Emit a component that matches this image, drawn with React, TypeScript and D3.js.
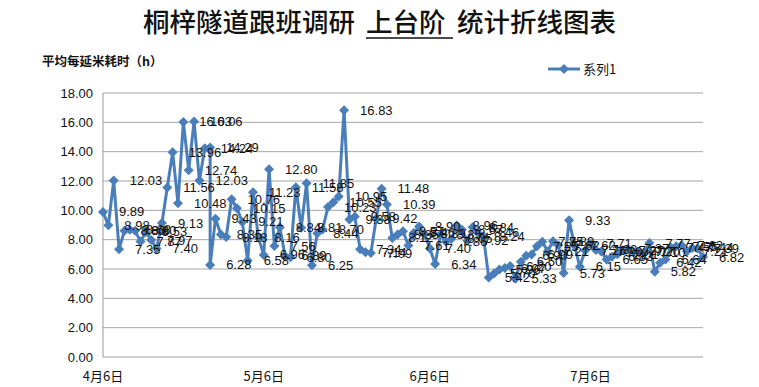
import * as d3 from "d3";

// 日期（同一天可能有多次记录）
const aprDates = ["4/6", "4/7", "4/8", "4/9", "4/10", "4/11", "4/12", "4/13", "4/14", "4/15", "4/16", "4/17", "4/18", "4/19", "4/20", "4/21", "4/22", "4/23", "4/24", "4/25", "4/26", "4/26", "4/27", "4/28", "4/29", "4/30"];
const mayDates = ["5/1", "5/2", "5/3", "5/4", "5/5", "5/6", "5/7", "5/8", "5/9", "5/10", "5/11", "5/12", "5/13", "5/14", "5/15", "5/16", "5/17", "5/18", "5/19", "5/20", "5/21", "5/22", "5/23", "5/24", "5/25", "5/26", "5/27", "5/28", "5/29", "5/30", "5/31"];
const junDates = ["6/1", "6/2", "6/3", "6/4", "6/5", "6/6", "6/7", "6/8", "6/9", "6/10", "6/11", "6/12", "6/13", "6/14", "6/15", "6/16", "6/17", "6/18", "6/19", "6/20", "6/21", "6/22", "6/23", "6/24", "6/25", "6/26", "6/27", "6/28", "6/29", "6/30"];
const julDates = ["7/1", "7/2", "7/3", "7/4", "7/5", "7/6", "7/7", "7/8", "7/9", "7/10", "7/11", "7/12", "7/13", "7/14", "7/15", "7/16", "7/17", "7/18", "7/19", "7/20", "7/21", "7/22", "7/23", "7/24", "7/25", "7/26", "7/27"];

// 平均每延米耗时（h）
const aprValues = [9.89, 8.98, 12.03, 7.35, 8.6, 8.68, 8.6, 7.87, 8.53, 7.97, 7.4, 9.13, 11.56, 13.96, 10.48, 16.03, 12.74, 16.06, 12.03, 14.24, 14.29, 6.28, 9.43, 8.35, 8.18, 10.76];
const mayValues = [10.15, 9.21, 6.58, 11.23, 8.16, 6.96, 12.8, 7.56, 8.84, 6.89, 6.8, 11.58, 8.81, 11.85, 6.25, 8.44, 8.7, 10.23, 10.55, 10.95, 16.83, 9.38, 9.58, 7.34, 7.14, 7.09, 9.42, 11.48, 10.39, 8.12, 8.35];
const junValues = [8.57, 7.61, 8.46, 8.9, 8.39, 7.4, 6.34, 8.35, 7.86, 8.05, 8.96, 8.67, 7.92, 8.84, 8.46, 8.24, 5.42, 5.7, 5.96, 6.07, 6.2, 5.33, 6.5, 6.9, 6.99, 7.55, 7.85, 7.21, 7.89, 7.62];
const julValues = [5.73, 9.33, 7.62, 6.15, 7.26, 7.71, 7.3, 7.2, 6.65, 6.83, 7.01, 7.27, 7.37, 7.17, 7.2, 7.1, 7.77, 5.82, 6.42, 6.64, 7.47, 7.55, 7.62, 7.21, 7.44, 7.39, 6.82];

const xTickDates = ["4/6", "5/6", "6/6", "7/6"];
const yTicks = [0, 2, 4, 6, 8, 10, 12, 14, 16, 18];
const seriesName = "系列1";

const parse = d3.timeParse("%m/%d");
const fmtDate = d3.timeFormat("%-m月%-d日");

interface Point {
  date: Date;
  value: number;
}

const data: Point[] = [...aprDates, ...mayDates, ...junDates, ...julDates].map((d, i) => ({
  date: parse(d)!,
  value: [...aprValues, ...mayValues, ...junValues, ...julValues][i],
}));

const BLUE = "#4a7ebb";
const NUM_FONT = "'Liberation Sans', Arial, sans-serif";
const CJK_FONT = "'Noto Sans CJK SC', sans-serif";

export default function App() {
  const width = 759;
  const height = 387;
  const plot = { left: 103, right: 703, top: 93, bottom: 357 };

  const x = d3
    .scaleTime()
    .domain([parse("4/6")!, parse("7/27")!])
    .range([plot.left, plot.right]);

  const y = d3.scaleLinear().domain([0, 18]).range([plot.bottom, plot.top]);

  const line = d3
    .line<Point>()
    .x((d) => x(d.date))
    .y((d) => y(d.value));

  const diamond = "M0,-5L5,0L0,5L-5,0Z";

  return (
    <svg
      width={width}
      height={height}
      style={{ position: "absolute", left: 0, top: 0, background: "#fff" }}
    >
      {/* Title */}
      <text y={32} fontFamily={CJK_FONT} fontSize={26.5} fontWeight={500} fill="#111">
        <tspan x={143}>桐梓隧道跟班调研</tspan>
        <tspan x={366}>上台阶</tspan>
        <tspan x={457}>统计折线图表</tspan>
      </text>
      <line x1={366} x2={453} y1={38} y2={38} stroke="#111" strokeWidth={1.5} />

      {/* Y axis title */}
      <text x={42} y={66} fontFamily={CJK_FONT} fontSize={12.5} fontWeight={700} fill="#111">
        平均每延米耗时（h）
      </text>

      {/* Grid lines */}
      {yTicks.map((t) => (
        <line
          key={t}
          x1={plot.left}
          x2={plot.right}
          y1={y(t)}
          y2={y(t)}
          stroke={t === 0 ? "#9a9a9a" : "#a6a6a6"}
          strokeWidth={1}
        />
      ))}
      <line x1={plot.left} x2={plot.left} y1={plot.top} y2={plot.bottom} stroke="#9a9a9a" />

      {/* Y tick labels */}
      {yTicks.map((t) => (
        <text
          key={t}
          x={93}
          y={y(t)}
          dy="0.35em"
          textAnchor="end"
          fontFamily={NUM_FONT}
          fontSize={13}
          fill="#111"
        >
          {t.toFixed(2)}
        </text>
      ))}

      {/* X tick labels */}
      {xTickDates.map((d) => (
        <text
          key={d}
          x={x(parse(d)!)}
          y={381}
          textAnchor="middle"
          fontFamily={CJK_FONT}
          fontSize={13}
          fill="#111"
        >
          {fmtDate(parse(d)!)}
        </text>
      ))}

      {/* Series line */}
      <path d={line(data) ?? ""} fill="none" stroke={BLUE} strokeWidth={3} strokeLinejoin="round" />

      {/* Markers */}
      {data.map((d, i) => (
        <path key={i} d={diamond} transform={`translate(${x(d.date)},${y(d.value)})`} fill={BLUE} />
      ))}

      {/* Data labels */}
      {data.map((d, i) => (
        <text
          key={i}
          x={x(d.date) + 16}
          y={y(d.value)}
          dy="0.35em"
          fontFamily={NUM_FONT}
          fontSize={13}
          fill="#111"
        >
          {d.value.toFixed(2)}
        </text>
      ))}

      {/* Legend */}
      <line x1={548} x2={580} y1={69} y2={69} stroke={BLUE} strokeWidth={3} />
      <path d={diamond} transform="translate(564,69)" fill={BLUE} />
      <text x={583} y={69} dy="0.35em" fontFamily={CJK_FONT} fontSize={13} fill="#111">
        {seriesName}
      </text>
    </svg>
  );
}
